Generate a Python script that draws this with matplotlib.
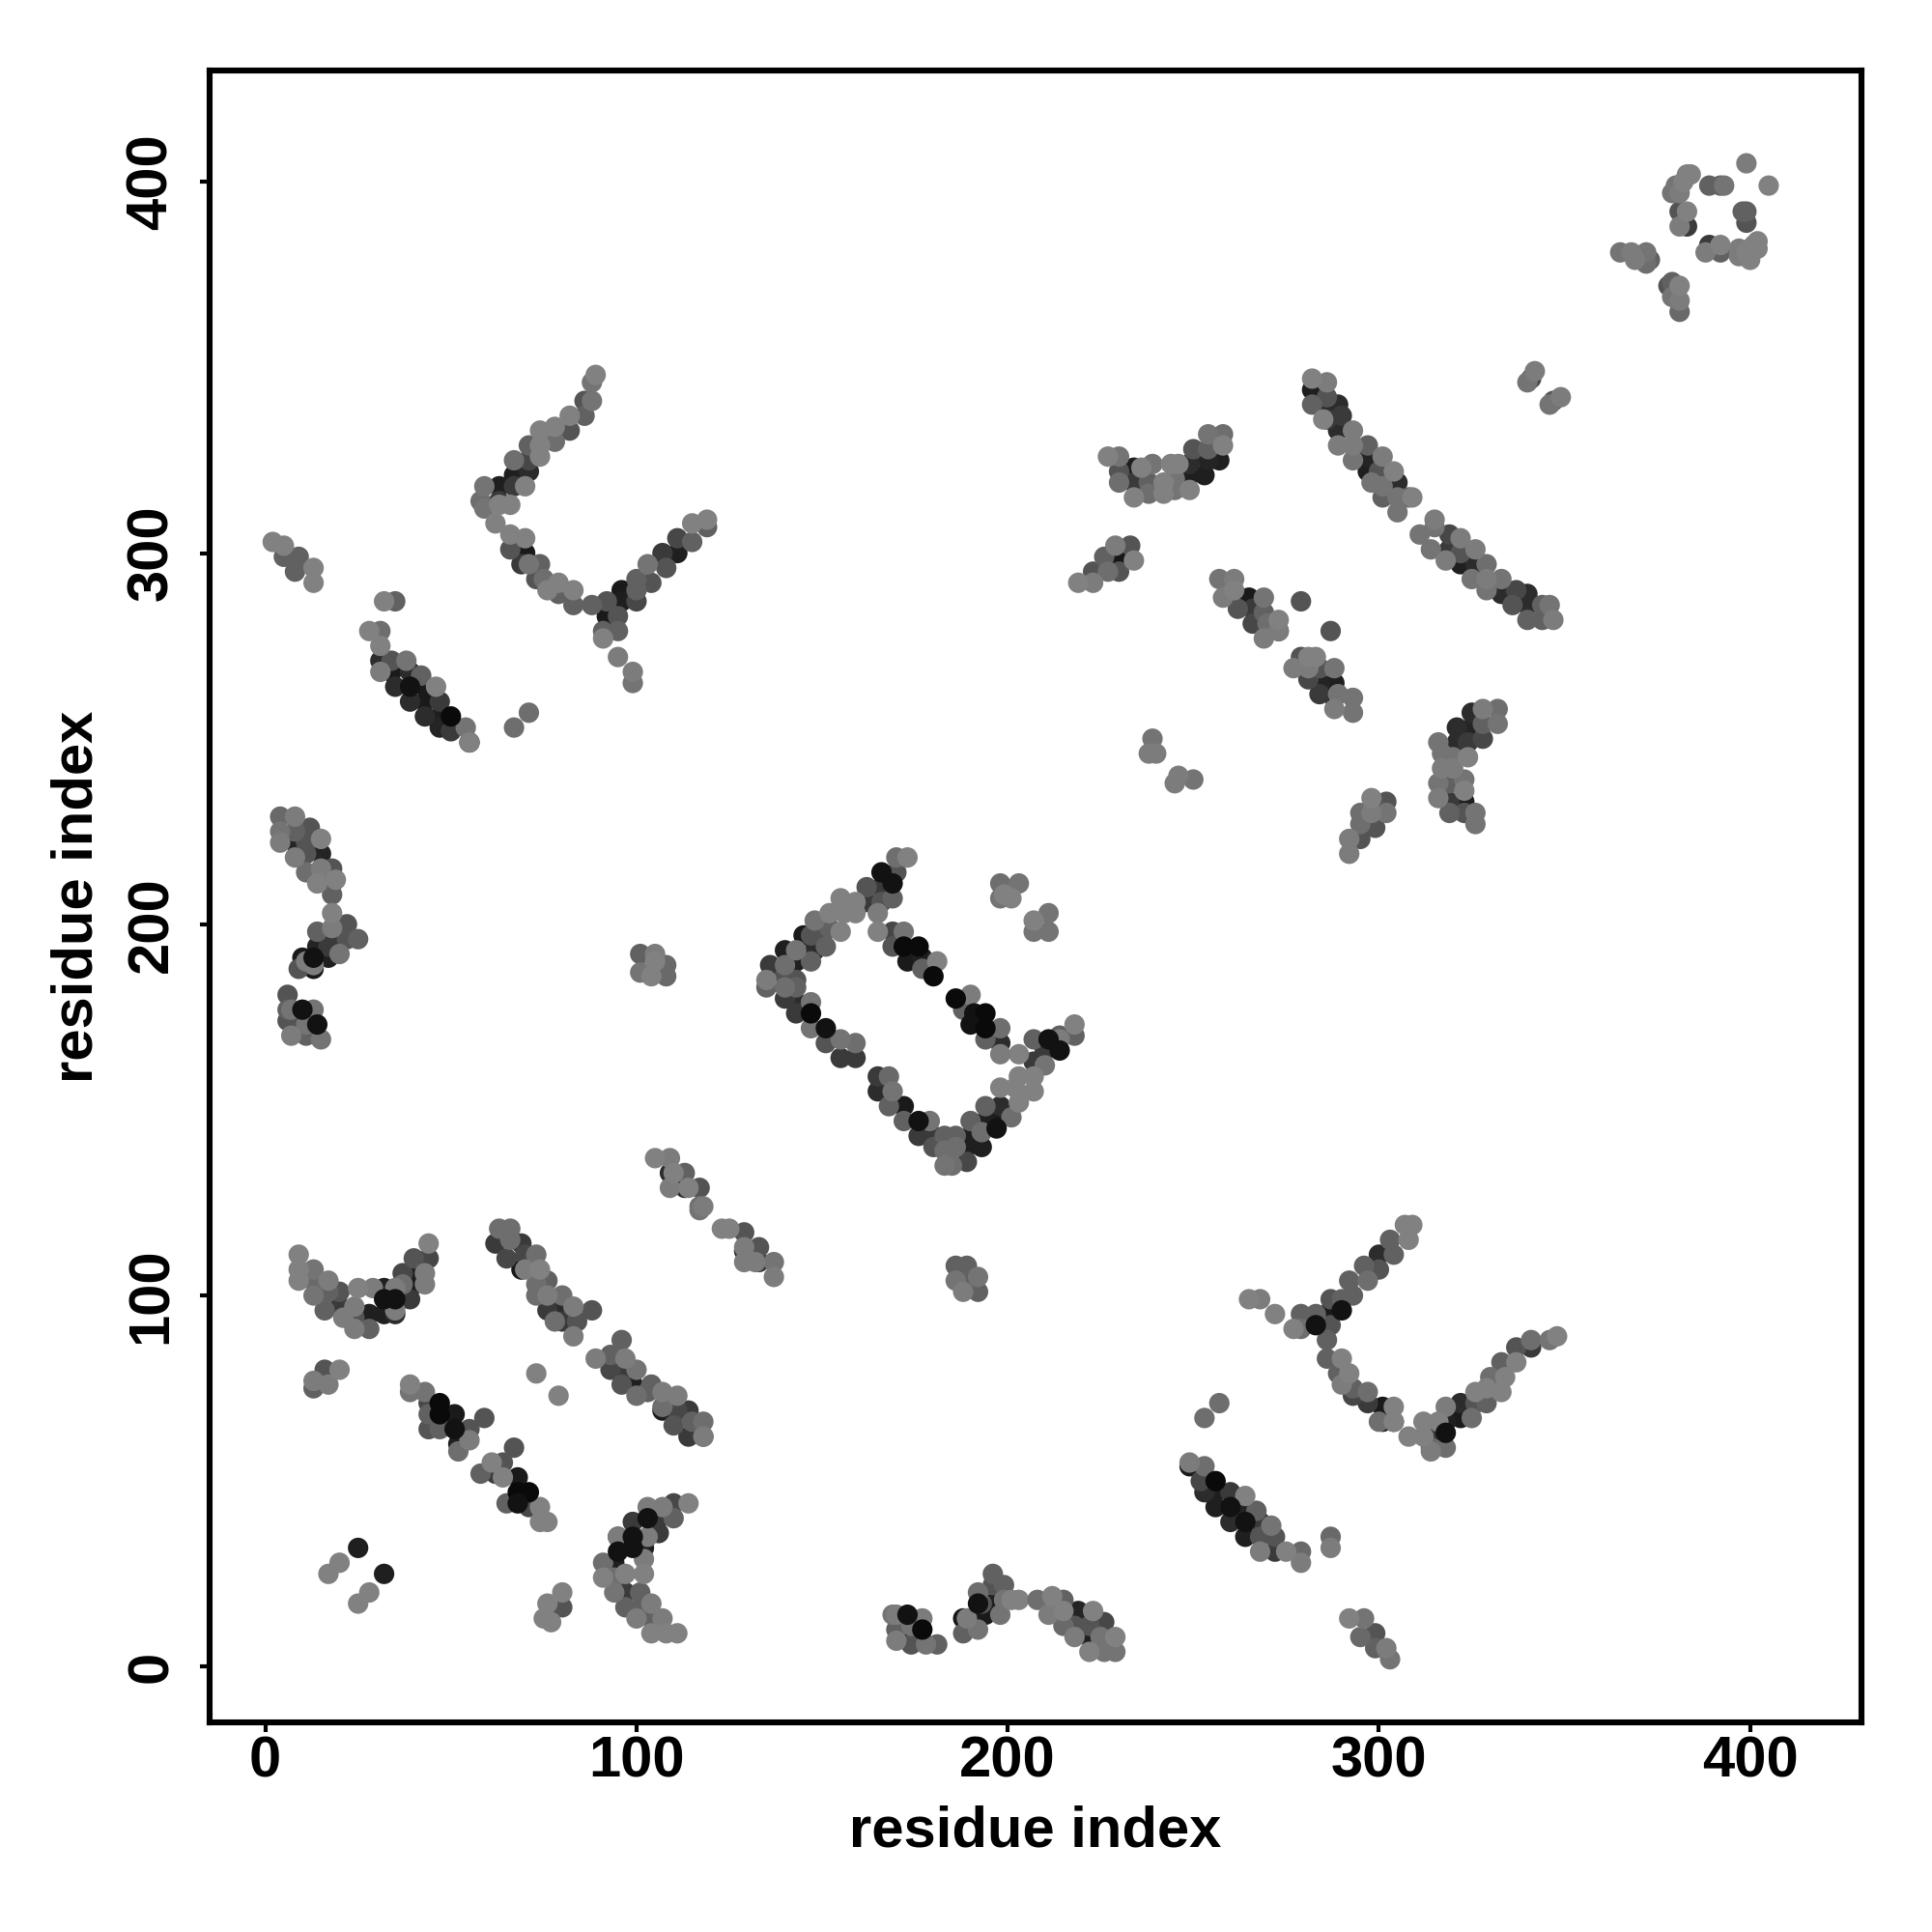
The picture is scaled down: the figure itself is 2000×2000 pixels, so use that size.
#contact map, residue index vs residue index
import matplotlib
matplotlib.use("Agg")
from matplotlib import pyplot as plt

plt.rcParams['font.family'] = ['Liberation Sans', 'DejaVu Sans']
plt.rcParams['font.weight'] = 'bold'

# each point is (residue x, residue y, score shown as grey level)
u_low_left = [(9,111,.47),(9,107,.47),(9,104,.47),(13,107,.42),(13,104,.38),(13,100,.42),(17,104,.45),
    (16,96,.35),(20,97,.2),(17,101,.35),(20,101,.3),(25,102,.47),(24,97,.45),(21,94,.45),(24,91,.45),
    (28,91,.35),(24,94,.3),(28,95,.1),(32,95,.1),(35,95,.15),(35,96,.45),(29,102,.45),(32,102,.1),
    (32,99,.05),(35,99,.05),(35,102,.45),(37,103,.4),(39,99,.2),(40,103,.08),(37,106,.25),(40,106,.1),
    (40,110,.3),(44,110,.25),(43,106,.45),(43,103,.45),(44,114,.47)]
diag_a1 = [(63,118,.4),(66,118,.4),(62,114,.2),(69,114,.2),(66,115,.4),(65,110,.25),(70,111,.25),
    (73,111,.4),(69,107,.07),(70,107,.45),(74,107,.47),(73,103,.4),(76,104,.35),(73,100,.4),(76,99,.1),
    (76,100,.45),(76,96,.2),(80,96,.15),(80,100,.4),(80,93,.2),(78,93,.4),(83,97,.45),(84,93,.3),
    (83,89,.45),(88,96,.3)]
diag_a2 = [(96,88,.35),(89,83,.45),(93,84,.35),(97,83,.45),(93,80,.25),(97,80,.2),(100,80,.42),(96,76,.3),
    (99,76,.1),(100,73,.4),(104,76,.35),(103,74,.35),(107,74,.45),(111,73,.45),(107,69,.1),(107,70,.4),
    (111,69,.25),(114,69,.2),(110,65,.3),(115,66,.35),(114,62,.2),(118,62,.2),(118,66,.4),(118,62,.45)]
small_left = [(13,75,.35),(13,77,.45),(17,76,.45),(16,80,.3),(20,80,.47),(73,79,.47),(79,73,.47)]
diag_b = [(39,76,.47),(39,74,.42),(43,74,.42),(44,71,.25),(47,71,.02),(44,68,.35),(47,68,.02),(44,64,.3),
    (47,64,.35),(51,68,.08),(51,64,.05),(52,60,.1),(52,58,.4),(55,64,.3),(55,61,.45),(59,67,.3),
    (67,59,.3),(64,55,.3),(61,55,.47),(58,52,.35),(62,52,.2),(64,51,.47),(68,51,.08),(68,47,.02),
    (71,47,.02),(65,44,.35),(68,44,.05),(71,43,.25),(74,43,.47),(74,39,.47),(76,39,.47)]
small_four = [(20,28,.47),(17,25,.47),(25,32,.1),(32,25,.1),(28,20,.47),(25,17,.47)]
small_bottom = [(80,20,.47),(76,17,.47),(77,16,.3),(80,16,.3),(75,13,.47),(77,12,.47)]
hook_low = [(114,44,.47),(110,44,.25),(110,40,.35),(107,43,.45),(103,43,.45),(106,40,.2),(106,36,.2),
    (103,40,.05),(99,39,.2),(99,35,.05),(95,35,.2),(95,35,.45),(103,35,.45),(102,32,.1),(99,32,.05),
    (95,31,.05),(102,29,.45),(91,28,.4),(94,28,.1),(97,25,.47),(102,25,.47),(91,24,.47),(94,24,.4),
    (94,20,.42),(97,20,.2),(101,20,.35),(104,17,.45),(97,16,.35),(101,16,.35),(100,13,.45),(104,13,.35),
    (107,13,.45),(104,9,.47),(108,9,.47),(111,9,.47)]
ring_top = [(173,218,.47),(170,218,.4),(170,214,.3),(166,214,.05),(169,211,.05),(166,210,.2),(162,210,.3),
    (169,207,.35),(166,206,.3),(162,206,.2),(165,203,.45),(155,207,.47),(159,206,.47),(159,203,.47),
    (156,203,.47),(152,203,.47),(155,198,.47),(148,201,.42),(152,199,.35),(151,194,.35),(145,197,.08),
    (147,197,.3),(148,193,.15),(147,190,.35),(150,197,.3),(143,190,.1),(140,193,.1),(143,193,.42),
    (136,189,.2),(140,189,.4),(135,183,.35),(135,185,.45),(140,186,.3),(140,183,.4),(143,185,.3),
    (143,183,.35),(140,180,.2),(143,179,.15),(143,176,.2),(147,176,.02),(147,179,.42),(147,172,.42),
    (151,172,.05),(151,168,.3),(155,169,.42),(155,164,.2),(159,164,.2),(159,168,.4)]
ring_low = [(165,159,.2),(168,159,.38),(165,155,.15),(169,155,.42),(168,151,.35),(172,151,.08),(172,147,.35),
    (176,147,.05),(179,147,.42),(176,143,.2),(180,143,.2),(180,140,.3),(183,143,.35),(186,143,.35),
    (183,139,.4),(183,135,.42),(185,135,.4),(186,140,.4),(189,136,.25),(189,140,.1),(190,143,.1),
    (190,147,.35),(193,140,.1),(193,144,.4),(194,147,.1),(194,151,.35),(197,147,.08),(198,151,.15),
    (197,145,.05),(201,148,.4),(198,156,.47),(203,152,.47),(202,156,.47),(207,155,.47),(203,159,.47),
    (207,159,.47),(203,165,.47),(207,163,.2),(210,162,.42),(207,169,.35),(211,169,.05),(210,166,.2),
    (214,166,.05),(214,170,.35),(214,169,.45),(218,170,.35),(218,173,.47)]
ring_mid = [(165,198,.47),(169,198,.25),(172,198,.42),(169,194,.3),(172,194,.02),(176,194,.02),(173,190,.08),
    (177,191,.1),(177,188,.35),(181,190,.47),(180,186,.02),(186,180,.02),(190,181,.45),(188,177,.35),
    (191,176,.05),(194,176,.02),(190,173,.05),(194,172,.02),(198,172,.4),(194,169,.35),(198,168,.15),(198,165,.45)]
ring_squares = [(198,211,.4),(203,211,.42),(198,207,.42),(199,208,.47),(201,207,.47),(211,203,.42),
    (207,201,.47),(207,198,.42),(211,198,.42)]
v_top_arm = [(89,348,.47),(88,346,.42),(86,341,.3),(88,341,.42),(82,337,.47),(86,337,.35),(82,333,.3),
    (78,334,.47),(78,330,.4),(74,333,.47),(74,329,.47),(71,329,.35),(74,326,.47),(71,325,.25),(67,325,.4),
    (71,322,.15),(67,321,.1),(70,318,.47),(63,318,.1),(67,318,.2),(59,318,.42),(58,314,.4),(63,314,.2),
    (63,313,.47),(66,313,.47),(59,312,.42),(62,308,.47)]
v_top_low = [(66,305,.47),(70,304,.47),(66,301,.3),(70,300,.08),(69,297,.2),(71,297,.42),(74,297,.35),
    (73,293,.3),(75,293,.4),(76,290,.47),(79,292,.47),(79,289,.35),(83,290,.47),(83,286,.35),(88,286,.35),
    (92,287,.3),(92,283,.08),(95,283,.3),(91,279,.35),(91,277,.47),(95,279,.35),(96,290,.08),(96,287,.1),
    (100,287,.25),(100,290,.35),(100,293,.35),(104,292,.3),(103,297,.42),(108,296,.3),(107,300,.2),
    (111,300,.1),(111,304,.25),(115,303,.35),(115,308,.47),(119,307,.35),(119,309,.47),
    (95,272,.45),(99,268,.45),(99,265,.42),(71,257,.4),(67,253,.4)]
small_upper_left = [(2,303,.47),(5,302,.47),(5,299,.35),(9,299,.35),(8,295,.35),(13,296,.47),(13,292,.47)]
diag_c = [(32,287,.47),(35,287,.35),(28,279,.47),(31,279,.4),(31,275,.47),(31,271,.15),(34,271,.3),(38,271,.42),
    (31,268,.45),(34,268,.08),(35,264,.15),(39,268,.15),(42,267,.35),(39,264,.05),(39,260,.15),(43,264,.08),
    (43,260,.08),(46,264,.47),(47,260,.2),(43,256,.15),(47,256,.1),(47,253,.12),(50,256,.02),(50,252,.2),
    (54,253,.42),(55,249,.07),(55,249,.47)]
top_mid = [(227,326,.47),(230,326,.42),(230,322,.3),(230,319,.4),(234,323,.1),(236,323,.47),(234,319,.2),
    (234,315,.47),(239,324,.42),(238,319,.35),(238,316,.4),(242,319,.47),(242,316,.47),(244,324,.47),
    (246,324,.47),(245,320,.42),(245,317,.42),(249,317,.47),(249,321,.1),(253,321,.1),(250,328,.3),
    (249,324,.15),(254,328,.35),(254,325,.12),(257,325,.1),(258,329,.47),(254,332,.42),(258,332,.4)]
top_mid_low = [(219,292,.47),(223,292,.45),(223,295,.3),(226,299,.35),(227,295,.4),(230,295,.3),(230,298,.07),
    (229,302,.45),(233,302,.3),(234,298,.47)]
long_diag_1 = [(282,347,.47),(286,346,.45),(282,344,.1),(286,342,.3),(282,340,.35),(285,340,.15),(289,340,.15),
    (290,337,.2),(286,336,.2),(285,336,.47),(289,333,.15),(293,333,.45),(293,329,.45),(289,329,.45),
    (297,329,.35),(293,325,.42),(297,326,.12),(301,326,.45),(297,322,.1),(298,319,.42),(300,322,.3),
    (304,322,.47),(301,318,.42),(301,315,.35),(305,319,.15),(305,315,.42),(305,311,.42),(308,315,.35),(309,315,.47)]
long_diag_2 = [(311,305,.42),(315,309,.45),(315,307,.42),(314,301,.42),(319,305,.25),(319,301,.2),(318,298,.45),
    (322,304,.45),(322,300,.3),(322,297,.1),(326,301,.45),(326,297,.15),(329,297,.4),(325,293,.42),
    (329,293,.45),(329,290,.42),(333,289,.15),(333,293,.42),(336,286,.3),(337,290,.25),(340,289,.15),
    (340,286,.15),(340,282,.35),(344,286,.35),(344,282,.35),(346,286,.42),(347,282,.45)]
pairs_upper = [(340,346,.42),(341,347,.25),(342,349,.45),(346,340,.42),(347,341,.3),(349,342,.45)]
diag_d = [(257,293,.42),(261,293,.45),(258,288,.45),(262,288,.07),(261,290,.47),(262,285,.3),(265,288,.08),
    (266,281,.25),(266,285,.2),(269,288,.42),(269,284,.35),(270,281,.4),(273,279,.15),(273,282,.47),
    (269,277,.45),(273,279,.45),(279,287,.3),(287,279,.3),
    (277,269,.45),(279,272,.3),(281,272,.47),(283,272,.47),(281,269,.45),(281,266,.25),(284,269,.3),
    (284,265,.12),(288,269,.42),(288,265,.1),(284,262,.2),(288,261,.1),(289,262,.42),(288,258,.45),
    (293,261,.42),(293,257,.42)]
small_mid_right = [(239,250,.42),(238,246,.45),(240,246,.45),(246,240,.45),(245,238,.45),(250,239,.42)]
right_vert = [(316,249,.42),(317,246,.42),(320,245,.42),(317,242,.45),(320,242,.45),(316,238,.42),(319,238,.35),
    (316,234,.45),(323,239,.42),(323,236,.47),(319,233,.2),(323,233,.1),(319,230,.35),(323,230,.3),
    (326,230,.42),(326,227,.42),(321,253,.15),(321,249,.15),(325,253,.12),(324,249,.2),(328,250,.25),
    (325,257,.15),(328,254,.35),(324,245,.47),(332,254,.42),(332,258,.4),(328,258,.45)]
right_vert_low = [(298,234,.47),(302,233,.3),(302,230,.42),(297,230,.1),(298,230,.45),(295,230,.4),(299,226,.3),
    (295,227,.4),(295,223,.3),(292,223,.45),(292,219,.45)]
v_low_arm = [(307,119,.47),(309,119,.47),(308,115,.47),(303,115,.35),(304,111,.35),(300,111,.15),(300,107,.3),
    (296,108,.35),(297,104,.4),(292,104,.35),(293,100,.35),(290,99,.35),(287,99,.3),(290,96,.05),(287,96,.08),
    (283,95,.35),(287,92,.3),(283,92,.05),(279,95,.35),(279,91,.4),(277,91,.47),(286,88,.35),
    (265,99,.47),(268,99,.45),(272,95,.47)]
v_low_low = [(286,83,.35),(290,83,.47),(289,79,.35),(292,79,.47),(290,76,.45),(293,75,.35),(297,74,.4),(293,73,.25),
    (297,71,.2),(301,70,.08),(304,70,.47),(301,66,.1),(300,66,.4),(304,66,.1),(304,66,.47),(308,62,.47),
    (312,66,.47),(316,66,.47),(312,62,.47),(314,63,.2),(314,59,.38),(314,58,.45),(318,59,.4),(318,63,.05),
    (318,66,.1),(318,70,.45),(322,71,.15),(322,67,.08),(325,67,.4),(326,71,.3),(326,74,.47),(329,71,.35),
    (329,75,.47),(333,74,.47),(330,78,.4),(334,78,.47),(333,82,.35),(337,82,.47),(337,86,.3),(341,86,.2),
    (341,88,.4),(346,88,.42),(348,89,.47)]
small_v_low = [(257,71,.4),(253,67,.4)]
diag_e = [(249,54,.08),(249,55,.45),(253,54,.4),(252,50,.25),(256,50,.02),(253,47,.15),(256,47,.1),(260,47,.2),
    (256,43,.1),(260,43,.05),(264,42,.12),(260,39,.15),(264,39,.05),(264,46,.47),(267,42,.35),(268,39,.2),
    (271,38,.42),(264,35,.1),(268,35,.3),(272,35,.3),(268,31,.45),(272,31,.2),(275,31,.47),(279,31,.38),
    (279,28,.45),(287,35,.38),(287,32,.45)]
small_low_right = [(292,13,.47),(296,13,.42),(295,8,.38),(299,9,.3),(299,5,.35),(302,5,.45),(303,2,.42)]
corner_ring = [(399,405,.45),(405,399,.47),(389,399,.35),(392,399,.35),(393,399,.42),(379,397,.42),(381,397,.45),
    (380,399,.42),(382,400,.47),(383,402,.47),(384,402,.47),(381,392,.3),(383,392,.47),(381,388,.45),(383,388,.2),
    (398,392,.35),(399,392,.35),(399,389,.3),(389,383,.2),(388,381,.45),(392,381,.35),(392,383,.47),
    (397,382,.45),(400,379,.47),(402,382,.47),
    (397,380,.45),(399,381,.47),(400,382,.47),(401,383,.47),(402,384,.47)]
corner_tail = [(365,381,.42),(368,381,.45),(369,379,.45),(372,381,.42),(372,378,.4),(373,379,.35),
    (378,372,.3),(379,373,.35),(381,372,.47),(379,369,.42),(381,368,.45),(381,365,.38)]
left_col_1 = [(4,229,.38),(8,229,.45),(4,225,.42),(4,222,.45),(8,225,.35),(8,222,.12),(8,218,.45),(12,226,.3),
    (11,222,.3),(11,219,.3),(11,214,.4),(15,223,.47),(15,219,.12),(15,215,.45),(14,211,.47),(18,215,.3),
    (18,211,.12),(19,212,.47),(18,208,.35)]
left_col_2 = [(18,203,.47),(18,199,.45),(14,198,.35),(22,200,.3),(22,196,.3),(25,196,.35),(17,196,.2),(14,194,.12),
    (17,194,.2),(20,192,.42),(17,191,.1),(13,191,.05),(10,191,.08),(11,190,.45),(9,188,.3),(13,188,.07),(13,189,.45)]
left_col_3 = [(6,181,.3),(6,177,.35),(6,174,.3),(10,177,.05),(7,177,.42),(13,177,.42),(7,170,.45),(11,170,.35),
    (10,173,.1),(11,173,.42),(14,173,.05),(15,169,.42)]
bottom_a = [(169,14,.42),(170,14,.45),(173,14,.05),(177,13,.45),(170,10,.35),(170,7,.45),(173,10,.1),(174,11,.42),
    (177,10,.02),(174,6,.3),(178,6,.42),(181,6,.35)]
bottom_b = [(196,25,.35),(199,22,.35),(196,22,.3),(192,20,.4),(192,17,.05),(193,17,.3),(196,17,.1),(199,18,.42),
    (201,18,.47),(203,18,.47),(198,14,.42),(194,14,.08),(191,13,.07),(188,13,.07),(189,13,.45),(191,11,.07),
    (192,10,.42),(188,9,.35)]
bottom_c = [(208,18,.4),(212,19,.47),(211,14,.45),(215,18,.35),(214,15,.1),(215,15,.47),(215,11,.38),(219,15,.12),
    (223,15,.47),(218,11,.3),(222,11,.3),(226,12,.25),(218,8,.45),(222,8,.1),(225,6,.1),(225,8,.42),(229,8,.47),
    (222,4,.47),(226,4,.42),(229,4,.42)]
chain_mid = [(105,137,.47),(109,137,.45),(109,133,.15),(110,133,.47),(113,133,.35),(109,129,.45),(113,129,.15),
    (114,129,.47),(117,129,.3),(118,124,.45),(117,124,.4),(117,123,.42),
    (123,118,.47),(125,118,.47),(129,117,.3),(129,112,.15),(129,113,.45),(129,109,.45),(133,113,.3),(133,109,.2),
    (132,109,.45),(137,109,.42),(137,105,.45)]
small_centre = [(101,192,.35),(105,192,.45),(101,187,.42),(104,186,.47),(105,190,.47),(108,189,.38),(108,186,.38),
    (186,108,.35),(189,108,.35),(186,104,.42),(188,104,.35),(188,101,.45),(192,101,.35),(192,105,.42)]

clusters = [u_low_left, diag_a1, diag_a2, small_left, diag_b, small_four, small_bottom, hook_low,
            ring_top, ring_low, ring_mid, ring_squares, v_top_arm, v_top_low, small_upper_left, diag_c,
            top_mid, top_mid_low, long_diag_1, long_diag_2, pairs_upper, diag_d, small_mid_right,
            right_vert, right_vert_low, v_low_arm, v_low_low, small_v_low, diag_e, small_low_right,
            corner_ring, corner_tail, left_col_1, left_col_2, left_col_3, bottom_a, bottom_b, bottom_c,
            chain_mid, small_centre]

tick_values = [0, 100, 200, 300, 400]

fig = plt.figure(figsize=(10, 10), dpi=200)
ax = fig.add_axes([217/2000, 1 - 1783/2000, 1710/2000, 1710/2000])

for points in clusters:
    # dark ones go under the lighter ones, the very darkest stay on top
    points = sorted(points, key=lambda p: p[2] if p[2] >= 0.06 else 1)
    xs = [p[0] for p in points]
    ys = [p[1] for p in points]
    shades = [p[2] for p in points]
    ax.scatter(xs, ys, c=shades, cmap='gray', vmin=-0.02, vmax=0.95, s=58, linewidths=0)

ax.set_xlim(-15, 430)
ax.set_ylim(-15, 430)
ax.set_xticks(tick_values)
ax.set_yticks(tick_values)
ax.tick_params(axis='both', labelsize=21.5, length=3.5, width=1.5)
ax.tick_params(axis='x', pad=1.5)
ax.tick_params(axis='y', pad=8)
plt.setp(ax.get_yticklabels(), rotation=90, va='center')
for side in ax.spines.values():
    side.set_linewidth(2.2)
ax.set_xlabel('residue index', fontsize=21.5, fontweight='bold', labelpad=6)
ax.set_ylabel('residue index', fontsize=21.5, fontweight='bold', labelpad=8)

plt.savefig('out.png', dpi=200)
